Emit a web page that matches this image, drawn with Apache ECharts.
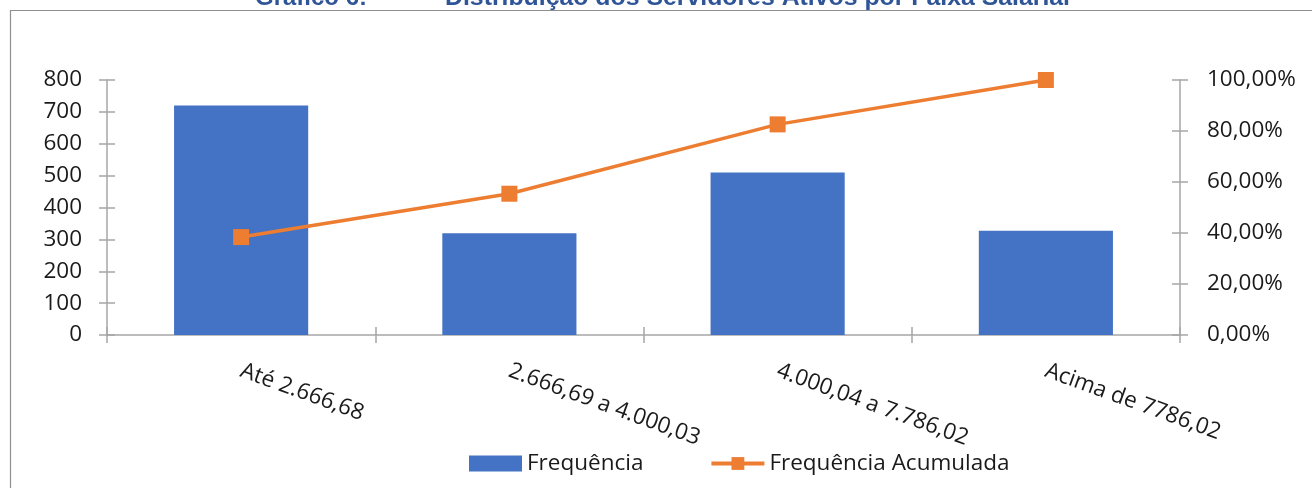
<!DOCTYPE html>
<html>
<head>
<meta charset="utf-8">
<script src="https://cdn.jsdelivr.net/npm/echarts@6/dist/echarts.min.js"></script>
<style>html,body{margin:0;padding:0;background:#fff;}#c{width:1312px;height:488px;}</style>
</head>
<body>
<div id="c"></div>
<script>
var categories = ['Até 2.666,68', '2.666,69 a 4.000,03', '4.000,04 a 7.786,02', 'Acima de 7786,02'];
var frequencia = [720, 319, 510, 327];
var acumulada = [0.384, 0.554, 0.826, 1.0];
var leftTicks = { min: 0, max: 800, interval: 100 };
var rightTicks = { min: 0, max: 1, interval: 0.2 };
var titleLeft = 'Gráfico 6:';
var titleRight = 'Distribuição dos Servidores Ativos por Faixa Salarial';

var axisGray = '#a6a6a6';
var font = 'Open Sans';
var fs = 22.5;
var titleFont = 'bold 24px "Liberation Sans", Arial, sans-serif';
var ctx = document.createElement('canvas').getContext('2d');
ctx.font = titleFont;
function fitScale(txt, w) { return w / ctx.measureText(txt).width; }

var chart = echarts.init(document.getElementById('c'), null, { renderer: 'canvas' });
function pct(v) { return (v * 100).toFixed(2).replace('.', ',') + '%'; }
var tickCross = { show: true, length: 8, lineStyle: { color: axisGray, width: 1.5 } };
var tickIn = { show: true, inside: true, length: 8, lineStyle: { color: axisGray, width: 1.5 } };

chart.setOption({
  animation: false,
  textStyle: { fontFamily: font },
  graphic: [
    { type: 'rect', shape: { x: 10.5, y: 10.5, width: 1400, height: 600 }, style: { fill: 'none', stroke: '#8f8f8f', lineWidth: 1.2 }, silent: true },
    { type: 'text', x: 255, y: 10, scaleX: fitScale(titleLeft, 112), style: { text: titleLeft, font: titleFont, fill: '#2F5597', verticalAlign: 'bottom' } },
    { type: 'text', x: 445, y: 10, scaleX: fitScale(titleRight, 625), style: { text: titleRight, font: titleFont, fill: '#2F5597', verticalAlign: 'bottom' } }
  ],
  legend: {
    left: 469, top: 452, padding: 0,
    itemWidth: 53, itemHeight: 16, itemGap: 66,
    lineStyle: { width: 4 },
    textStyle: { fontFamily: font, fontSize: fs, color: '#1a1a1a' },
    data: [{ name: 'Frequência', icon: 'rect' }, { name: 'Frequência Acumulada' }]
  },
  grid: { left: 107, right: 132, top: 80, bottom: 153, containLabel: false },
  xAxis: [
    {
      type: 'category', data: categories, boundaryGap: true,
      axisLine: { show: true, lineStyle: { color: axisGray, width: 1.5 } },
      axisTick: tickCross,
      axisLabel: { rotate: -20, margin: 35, fontFamily: font, fontSize: fs, color: '#1a1a1a', interval: 0 }
    },
    {
      type: 'category', data: categories, boundaryGap: true, position: 'bottom',
      axisLine: { show: false }, axisTick: tickIn, axisLabel: { show: false }
    }
  ],
  yAxis: [
    {
      type: 'value', position: 'left', min: leftTicks.min, max: leftTicks.max, interval: leftTicks.interval,
      axisLine: { show: true, lineStyle: { color: axisGray, width: 1.5 } },
      axisTick: tickCross, splitLine: { show: false },
      axisLabel: { margin: 25, fontFamily: font, fontSize: fs, color: '#1a1a1a' }
    },
    {
      type: 'value', position: 'right', min: rightTicks.min, max: rightTicks.max, interval: rightTicks.interval,
      axisLine: { show: true, lineStyle: { color: axisGray, width: 1.5 } },
      axisTick: tickCross, splitLine: { show: false },
      axisLabel: { margin: 27, fontFamily: font, fontSize: fs, color: '#1a1a1a', formatter: pct }
    },
    {
      type: 'value', position: 'left', min: leftTicks.min, max: leftTicks.max, interval: leftTicks.interval,
      axisLine: { show: false }, splitLine: { show: false }, axisLabel: { show: false }, axisTick: tickIn
    },
    {
      type: 'value', position: 'right', min: rightTicks.min, max: rightTicks.max, interval: rightTicks.interval,
      axisLine: { show: false }, splitLine: { show: false }, axisLabel: { show: false }, axisTick: tickIn
    }
  ],
  series: [
    {
      name: 'Frequência', type: 'bar', data: frequencia, xAxisIndex: 0, yAxisIndex: 0,
      barCategoryGap: '50%', itemStyle: { color: '#4472C4' }
    },
    {
      name: 'Frequência Acumulada', type: 'line', data: acumulada, xAxisIndex: 0, yAxisIndex: 1,
      symbol: 'rect', symbolSize: 16, lineStyle: { color: '#ED7D31', width: 3.5 },
      itemStyle: { color: '#ED7D31' }
    }
  ]
});
</script>
</body>
</html>
